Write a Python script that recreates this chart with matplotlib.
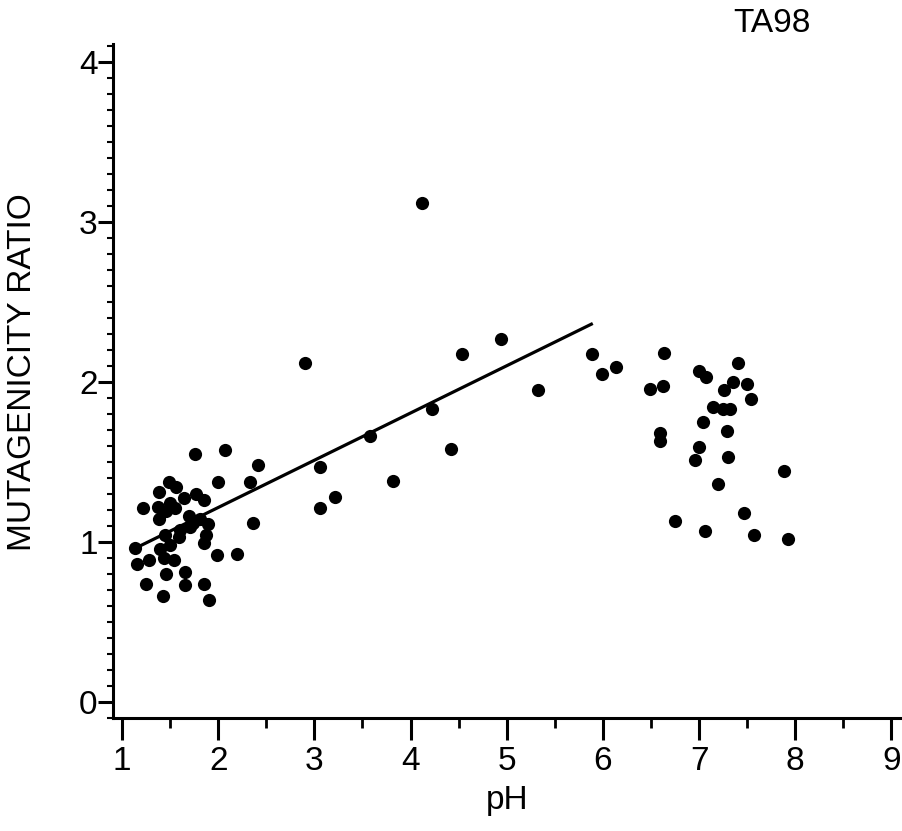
import matplotlib
matplotlib.use("Agg")
import matplotlib.pyplot as plt
from matplotlib.ticker import MultipleLocator

plt.rcParams['font.family'] = ['Liberation Sans', 'DejaVu Sans']

# Data (pH, mutagenicity ratio)
ph = [1.76, 2.07, 2.41, 1.49, 1.56, 2.00, 2.33, 1.38, 1.64, 1.77, 1.85,
      1.22, 1.37, 1.50, 1.55, 1.46, 1.38, 1.70, 2.36, 1.74, 1.81, 1.89,
      1.71, 1.60, 1.45, 1.59, 1.87, 1.50, 1.85, 1.135, 1.40, 1.99, 2.20,
      1.28, 1.44, 1.54, 1.16, 1.46, 1.66, 1.25, 1.65, 1.85, 1.43, 1.90,
      4.12, 2.90, 4.53, 4.94, 5.89, 5.99, 6.14, 5.33, 4.22, 3.575, 4.42,
      3.06, 3.82, 3.21, 3.06,
      6.64, 6.49, 6.63, 7.00, 7.07, 7.40, 7.35, 7.26, 7.50, 7.54, 7.15,
      7.245, 7.32, 7.04, 7.29, 6.59, 6.59, 7.00, 6.96, 7.30, 7.88, 7.20,
      7.47, 6.75, 7.06, 7.57, 7.92]
ratio = [1.55, 1.575, 1.48, 1.375, 1.34, 1.375, 1.375, 1.31, 1.275, 1.30, 1.26,
         1.21, 1.22, 1.24, 1.21, 1.19, 1.14, 1.16, 1.12, 1.12, 1.14, 1.11,
         1.09, 1.075, 1.04, 1.03, 1.04, 0.98, 0.99, 0.96, 0.955, 0.92, 0.925,
         0.89, 0.90, 0.89, 0.86, 0.80, 0.81, 0.74, 0.73, 0.74, 0.66, 0.64,
         3.117, 2.117, 2.175, 2.27, 2.175, 2.05, 2.09, 1.95, 1.83, 1.66, 1.58,
         1.47, 1.38, 1.28, 1.21,
         2.18, 1.955, 1.975, 2.07, 2.03, 2.12, 2.00, 1.95, 1.985, 1.89, 1.84,
         1.83, 1.83, 1.75, 1.69, 1.68, 1.63, 1.59, 1.51, 1.53, 1.445, 1.36,
         1.18, 1.13, 1.07, 1.04, 1.02]

# Regression line endpoints
fit_x = [1.12, 5.88]
fit_y = [0.955, 2.36]

x_ticks = [1, 2, 3, 4, 5, 6, 7, 8, 9]
y_ticks = [0, 1, 2, 3, 4]

fig = plt.figure(figsize=(9.02, 8.31), dpi=100)
ax = fig.add_axes([113/902, 1 - 718/831, 1 - 113/902, (718 - 44)/831])

ax.plot(ph, ratio, 'o', color='black', markersize=9.5, markeredgewidth=0, clip_on=False)
ax.plot(fit_x, fit_y, '-', color='black', linewidth=2.3)

ax.set_xlim(0.9065, 9.11)
ax.set_ylim(-0.1, 4.11)

for s in ['top', 'right']:
    ax.spines[s].set_visible(False)
for s in ['left', 'bottom']:
    ax.spines[s].set_linewidth(2.2)

ax.set_xticks(x_ticks)
ax.set_yticks(y_ticks)
ax.xaxis.set_minor_locator(MultipleLocator(0.5))
ax.yaxis.set_minor_locator(MultipleLocator(0.1))
ax.tick_params(axis='x', which='major', length=16, width=2.2, labelsize=24, pad=4, direction='out')
ax.tick_params(axis='x', which='minor', length=7, width=2.0, direction='out')
ax.tick_params(axis='y', which='major', length=11, width=2.2, labelsize=24, pad=0, direction='out')
ax.tick_params(axis='y', which='minor', length=4, width=1.5, direction='out')

fig.text(507/902, 1 - 800/831, 'pH', ha='center', va='center', fontsize=24)
fig.text(22.5/902, 1 - 372/831, 'MUTAGENICITY RATIO', ha='center', va='center',
         rotation=90, fontsize=24)
fig.text(772/902, 1 - 24/831, 'TA98', ha='center', va='center', fontsize=24)

fig.savefig('out.png', dpi=100)
